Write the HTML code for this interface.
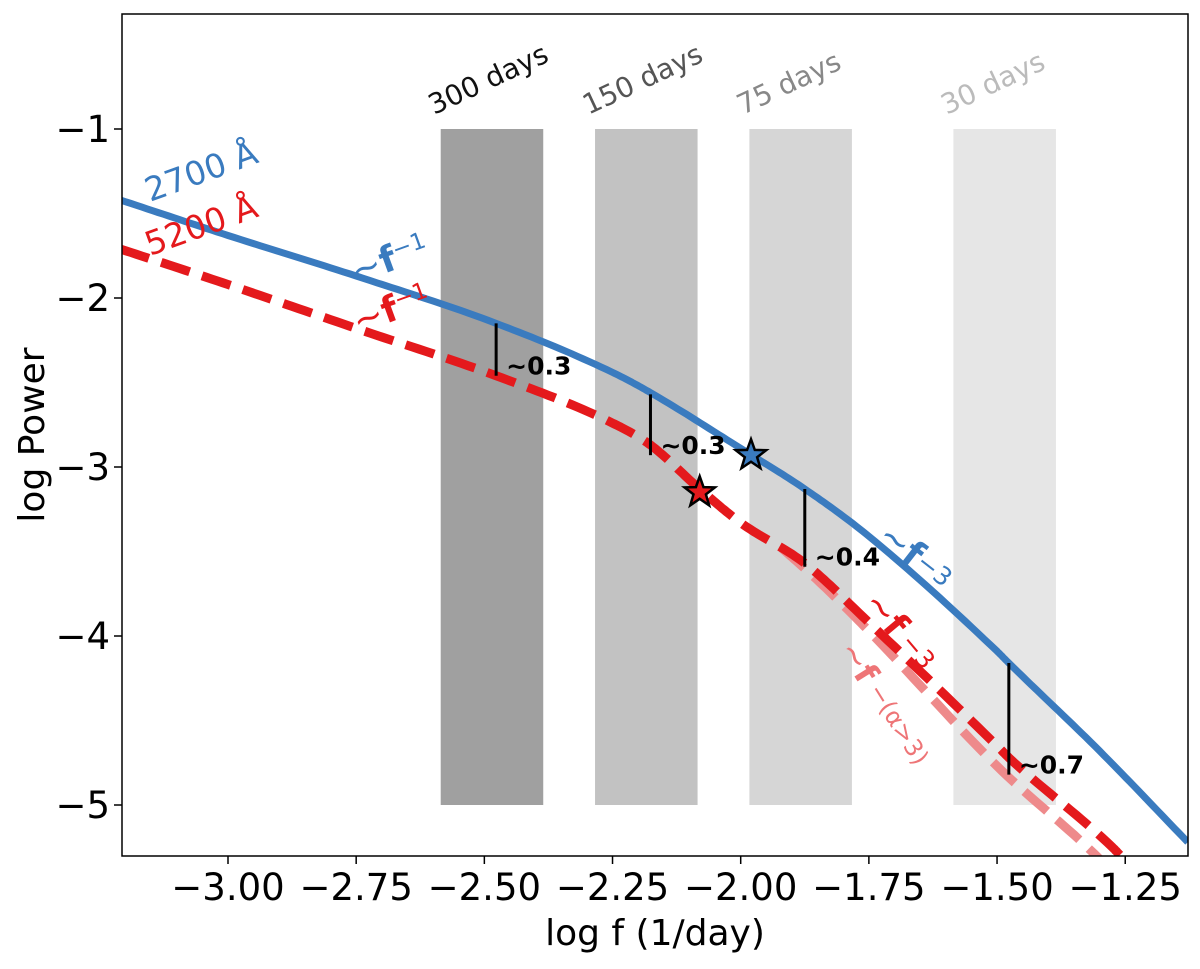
<!DOCTYPE html>
<html><head><meta charset="utf-8"><style>
body{margin:0;background:#fff}
svg text{font-family:"DejaVu Sans","Liberation Sans",sans-serif}
</style></head><body>
<svg id="chart" width="1200" height="964">
<defs><clipPath id="plotclip"><rect x="122" y="14" width="1066" height="842"/></clipPath></defs>
<g id="bands"></g>
<g id="curves" clip-path="url(#plotclip)"></g>
<g id="annot"></g>
<rect x="122" y="14" width="1066" height="842" fill="none" stroke="#000" stroke-width="1.5"/>
<g id="axes"></g>
<text x="655" y="945" font-size="36" text-anchor="middle">log f (1/day)</text>
<text transform="translate(44,435) rotate(-90)" font-size="36" text-anchor="middle">log Power</text>
</svg>
<script>
const xTicks=[-3.0,-2.75,-2.5,-2.25,-2.0,-1.75,-1.5,-1.25];
const xTickLabels=["−3.00","−2.75","−2.50","−2.25","−2.00","−1.75","−1.50","−1.25"];
const yTicks=[-1,-2,-3,-4,-5];
const yTickLabels=["−1","−2","−3","−4","−5"];
const bandDays=[300,150,75,30];
const bandLabels=["300 days","150 days","75 days","30 days"];
const bandFill=["#a0a0a0","#c2c2c2","#d6d6d6","#e6e6e6"];
const bandText=["#111","#555","#888","#bbb"];
const blueX=[-3.21,-3.0,-2.75,-2.477,-2.25,-2.176,-2.0,-1.875,-1.75,-1.5,-1.477,-1.3,-1.128];
const blueY=[-1.42,-1.63,-1.87,-2.15,-2.44,-2.56,-2.89,-3.13,-3.41,-4.09,-4.16,-4.68,-5.22];
const redX=[-3.21,-3.0,-2.75,-2.477,-2.25,-2.176,-2.08,-2.0,-1.875,-1.75,-1.5,-1.477,-1.275,-1.25];
const redY=[-1.71,-1.92,-2.18,-2.46,-2.74,-2.87,-3.13,-3.33,-3.57,-3.92,-4.65,-4.72,-5.25,-5.33];
const paleX=[-1.92,-1.85,-1.75,-1.5,-1.3,-1.27];
const paleY=[-3.48,-3.67,-3.97,-4.77,-5.32,-5.42];
const starPts=[[-1.98,-2.93,"#3a7bbf"],[-2.08,-3.15,"#e4191c"]];
const gapX=[-2.477,-2.176,-1.875,-1.477];
const gapTop=[-2.15,-2.57,-3.13,-4.16];
const gapBot=[-2.46,-2.93,-3.59,-4.82];
const gapLabels=["~0.3","~0.3","~0.4","~0.7"];

const X=v=>228+(v+3)*512.7, Y=v=>129-(v+1)*169;
const NS="http://www.w3.org/2000/svg";
function mk(tag,attrs,parent,txt){const e=document.createElementNS(NS,tag);for(const k in attrs)e.setAttribute(k,attrs[k]);if(txt!==undefined)e.textContent=txt;parent.appendChild(e);return e;}
const bands=document.getElementById('bands'),curves=document.getElementById('curves'),annot=document.getElementById('annot'),axes=document.getElementById('axes');

bandDays.forEach((d,i)=>{const c=Math.log10(1/d)-0.008;
 const r=mk('rect',{x:X(c-0.1),y:Y(-1),width:X(c+0.1)-X(c-0.1),height:Y(-5)-Y(-1),fill:bandFill[i]},bands);
 
 
 const t=mk('text',{transform:`translate(${X(c)-58},${Y(-1)-14}) rotate(-25)`,'font-size':28,fill:bandText[i]},bands,bandLabels[i]);
 
 
});

function smoothPath(xs,ys){const n=xs.length,dl=[],m=[];
 for(let i=0;i<n-1;i++)dl.push((ys[i+1]-ys[i])/(xs[i+1]-xs[i]));
 m[0]=dl[0];m[n-1]=dl[n-2];
 for(let i=1;i<n-1;i++){m[i]=(dl[i-1]*dl[i]<=0)?0:(dl[i-1]+dl[i])/2;}
 let d='';
 for(let i=0;i<n-1;i++){const h=xs[i+1]-xs[i];
  for(let k=0;k<=20;k++){if(i>0&&k===0)continue;const t=k/20,t2=t*t,t3=t2*t;
   const y=(2*t3-3*t2+1)*ys[i]+(t3-2*t2+t)*h*m[i]+(-2*t3+3*t2)*ys[i+1]+(t3-t2)*h*m[i+1];
   const x=xs[i]+t*h;d+=(d?' L':'M')+X(x).toFixed(1)+','+Y(y).toFixed(1);}}
 return d;}
const pale=mk('path',{d:smoothPath(paleX,paleY),fill:'none',stroke:'#ee8a8b','stroke-width':9,'stroke-dasharray':'30 13'},curves);


const red=mk('path',{d:smoothPath(redX,redY),fill:'none',stroke:'#e4191c','stroke-width':9,'stroke-dasharray':'30 13'},curves);


const blue=mk('path',{d:smoothPath(blueX,blueY),fill:'none',stroke:'#3a7bbf','stroke-width':7},curves);



starPts.forEach((s,i)=>{const cx=X(s[0]),cy=Y(s[1]);let pts=[];for(let k=0;k<10;k++){const r=k%2?6.5:16,a=-Math.PI/2+k*Math.PI/5;pts.push((cx+r*Math.cos(a)).toFixed(1)+','+(cy+r*Math.sin(a)).toFixed(1));}
 const st=mk('polygon',{points:pts.join(' '),fill:s[2],stroke:'#000','stroke-width':2.5},annot);
 
 });

gapX.forEach((g,i)=>{const l=mk('line',{x1:X(g),x2:X(g),y1:Y(gapTop[i]),y2:Y(gapBot[i]),stroke:'#000','stroke-width':3},annot);
 
 
 const t=mk('text',{x:X(g)+10,y:Y(gapBot[i])-1,'font-size':25,'font-weight':'bold'},annot,gapLabels[i]);
 
 });

const labels=[
 [150,202,-20,'#3a7bbf','2700 Å',33],
 [150,256,-20,'#e4191c','5200 Å',33],
 [356,284,-20,'#3a7bbf','~<tspan font-weight="bold">f</tspan><tspan font-size="23" dy="-11">−1</tspan>',36],
 [358,334,-20,'#e4191c','~<tspan font-weight="bold">f</tspan><tspan font-size="23" dy="-11">−1</tspan>',36],
 [876,540,38,'#3a7bbf','~<tspan font-weight="bold">f</tspan><tspan font-size="25" dy="-4">−3</tspan>',36],
 [862,604,50,'#e4191c','~<tspan font-weight="bold">f</tspan><tspan font-size="25" dx="8" dy="-4">−3</tspan>',36],
 [838,650,58,'#ee7577','~<tspan font-weight="bold">f</tspan><tspan font-size="24" dx="8" dy="-4">−(α&gt;3)</tspan>',33]];
labels.forEach((L,i)=>{const t=mk('text',{transform:`translate(${L[0]},${L[1]}) rotate(${L[2]})`,fill:L[3],'font-size':L[5]},annot);t.innerHTML=L[4];
 
 });

xTicks.forEach((v,i)=>{mk('line',{x1:X(v),x2:X(v),y1:856,y2:864,stroke:'#000','stroke-width':1.5},axes);
 const t=mk('text',{x:X(v),y:900,'font-size':37,'text-anchor':'middle'},axes,xTickLabels[i]);
 
 });
yTicks.forEach((v,i)=>{mk('line',{x1:114,x2:122,y1:Y(v),y2:Y(v),stroke:'#000','stroke-width':1.5},axes);
 const t=mk('text',{x:110,y:Y(v)+13,'font-size':37,'text-anchor':'end'},axes,yTickLabels[i]);
 
 });
</script>
</body></html>
